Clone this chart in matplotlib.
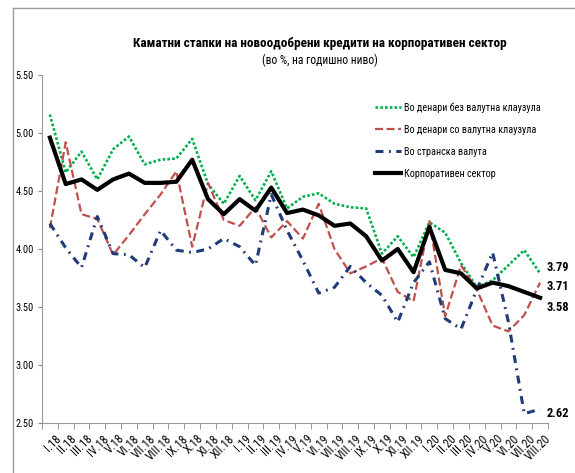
import numpy as np
import matplotlib.pyplot as plt
from matplotlib import font_manager
from matplotlib.lines import Line2D
from matplotlib.transforms import ScaledTranslation

# pick a narrow font if one is there
names = {f.name for f in font_manager.fontManager.ttflist}
fam = 'DejaVu Sans'
for f in ['Liberation Sans Narrow', 'Arial Narrow', 'Roboto Condensed', 'Open Sans Condensed']:
    if f in names:
        fam = f
        break
plt.rcParams['font.family'] = [fam, 'DejaVu Sans']

months = ['I.18', 'II.18', 'III.18', 'IV.18', 'V.18', 'VI.18', 'VII.18', 'VIII.18',
          'IX.18', 'X.18', 'XI.18', 'XII.18', 'I.19', 'II.19', 'III.19', 'IV.19',
          'V.19', 'VI.19', 'VII.19', 'VIII.19', 'IX.19', 'X.19', 'XI.19', 'XII.19',
          'I.20', 'II.20', 'III.20', 'IV.20', 'V.20', 'VI.20', 'VII.20', 'VIII.20']

den_bez = [5.16, 4.66, 4.84, 4.60, 4.86, 4.97, 4.73, 4.77, 4.78, 4.95, 4.56, 4.39,
           4.63, 4.42, 4.67, 4.35, 4.45, 4.48, 4.39, 4.36, 4.35, 3.96, 4.11, 3.93,
           4.23, 4.14, 3.88, 3.67, 3.73, 3.86, 3.99, 3.79]
den_so = [4.18, 4.92, 4.30, 4.26, 3.95, 4.12, 4.30, 4.47, 4.67, 4.02, 4.57, 4.25,
          4.20, 4.36, 4.10, 4.24, 4.09, 4.39, 4.00, 3.79, 3.85, 3.92, 3.63, 3.55,
          4.24, 3.42, 3.86, 3.65, 3.34, 3.29, 3.43, 3.71]
stranska = [4.22, 4.01, 3.84, 4.28, 3.96, 3.95, 3.84, 4.16, 3.99, 3.97, 4.00, 4.09,
            4.02, 3.86, 4.47, 4.16, 3.90, 3.62, 3.67, 3.85, 3.71, 3.60, 3.37, 3.71,
            3.89, 3.40, 3.31, 3.65, 3.97, 3.37, 2.58, 2.62]
korporativen = [4.96, 4.56, 4.60, 4.51, 4.60, 4.65, 4.57, 4.57, 4.58, 4.77, 4.43, 4.30,
                4.43, 4.33, 4.53, 4.31, 4.34, 4.29, 4.20, 4.22, 4.11, 3.90, 4.00, 3.80,
                4.19, 3.82, 3.79, 3.66, 3.71, 3.68, 3.63, 3.58]

yticks = [2.50, 3.00, 3.50, 4.00, 4.50, 5.00, 5.50]

fig = plt.figure(figsize=(5.75, 4.73), dpi=100)
ax = fig.add_axes([0.073, 0.1057, 0.880, 0.7357])

x = np.arange(len(months))
ax.plot(x, den_bez, color='#00B050', lw=1.9, ls=(0, (1.0, 0.8)),
        label='Во денари без валутна клаузула')
ax.plot(x, den_so, color='#C0504D', lw=1.6, ls=(0, (3.6, 1.6)),
        label='Во денари со валутна клаузула')
ax.plot(x, stranska, color='#1F3C78', lw=2.2, ls=(0, (2.6, 1.8, 0.6, 1.8)),
        label='Во странска валута')
ax.plot(x, korporativen, color='black', lw=3, label='Корпоративен сектор')

ax.set_xlim(-0.5, len(months) - 0.5)
ax.set_ylim(2.5, 5.5)
ax.set_yticks(yticks)
ax.set_yticklabels(['%.2f' % v for v in yticks], fontsize=7.5)
ax.tick_params(axis='y', length=3, color='#888888', pad=3)

ax.set_xticks(x)
ax.set_xticks(np.arange(len(months) + 1) - 0.5, minor=True)
ax.tick_params(axis='x', which='major', length=0, pad=10)
ax.tick_params(axis='x', which='minor', length=4, color='#888888')
ax.set_xticklabels(months, rotation=45, ha='right', va='center',
                   rotation_mode='anchor', fontsize=8.5)
off = ScaledTranslation(9 / 100, 0, fig.dpi_scale_trans)
for lab in ax.get_xticklabels():
    lab.set_transform(lab.get_transform() + off)

for s in ['top', 'right']:
    ax.spines[s].set_visible(False)
for s in ['left', 'bottom']:
    ax.spines[s].set_color('#999999')

# end labels, nudged apart like in the source chart
ends = [(den_bez, 4), (den_so, -3), (korporativen, -7), (stranska, -3)]
for vals, dy in ends:
    ax.annotate('%.2f' % vals[-1], (x[-1], vals[-1]), xytext=(5, dy),
                textcoords='offset points', va='center', ha='left',
                fontsize=9, fontweight='bold')

fig.legend(loc='upper left', bbox_to_anchor=(0.6435, 0.794), frameon=False,
           fontsize=7.3, handlelength=2.6, handletextpad=0.25, labelspacing=1.17,
           borderpad=0)

fig.text(0.557, 0.908, 'Каматни стапки на новоодобрени кредити на корпоративен сектор',
         ha='center', va='center', fontsize=9.5, fontweight='bold')
fig.text(0.557, 0.872, '(во %, на годишно ниво)', ha='center', va='center', fontsize=8.3)

# frame around the figure
fig.add_artist(Line2D([13 / 575, 1], [1 - 8 / 473] * 2, color='#999999', lw=1))
fig.add_artist(Line2D([13 / 575] * 2, [0, 1 - 8 / 473], color='#999999', lw=1))

fig.savefig('out.png', dpi=100)
